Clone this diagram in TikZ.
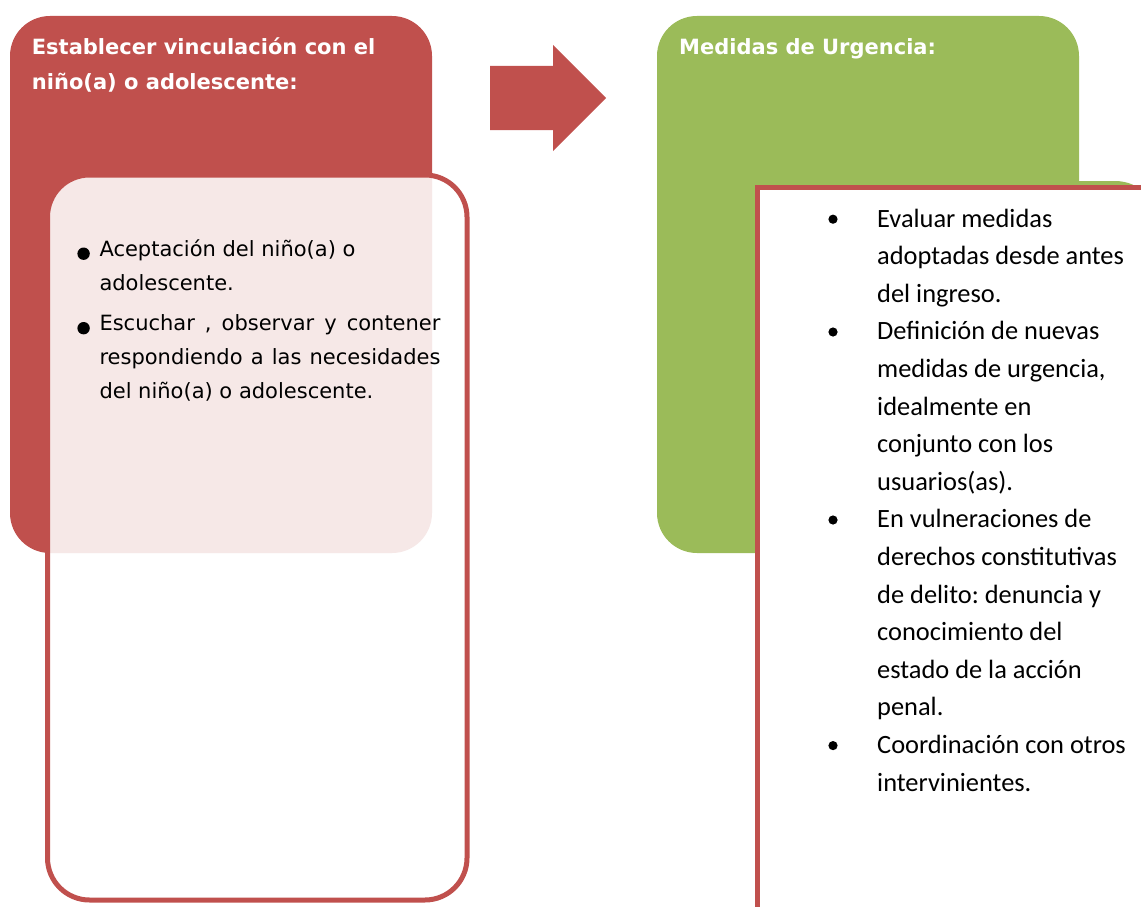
\documentclass[tikz,border=0pt]{standalone}
\usepackage{fontspec}
\setmainfont{DejaVu Sans}
\newfontfamily\calibrifont{Carlito}
\definecolor{cred}{HTML}{C0504D}
\definecolor{cgreen}{HTML}{9BBB59}
\newcommand\jline[1]{\makebox[341pt][s]{\spaceskip=.2em plus 1fil #1}}
\begin{document}
\begin{tikzpicture}[x=1pt,y=-1pt,
  redpanel/.style={rounded corners=40pt, fill=cred},
  greenpanel/.style={rounded corners=40pt, fill=cgreen},
  frameline/.style={draw=cred, line width=5pt},
  hdr/.style={anchor=base west, inner sep=0pt, text=white, text width=420pt, align=flush left,
    font=\fontsize{21pt}{35pt}\selectfont\bfseries\frenchspacing},
  leftitem/.style={anchor=base west, inner sep=0pt, text width=341pt, align=flush left,
    font=\fontsize{21pt}{34pt}\selectfont\frenchspacing},
  rightitem/.style={anchor=base west, inner sep=0pt, text width=262pt, align=flush left,
    font=\calibrifont\fontsize{26.4pt}{37.6pt}\selectfont\frenchspacing},
  lbullet/.style={fill=black},
]
\useasboundingbox (0,0) rectangle (1141,907);
\clip (0,0) rectangle (1141,907);

% left panel
\fill[redpanel] (10,16) rectangle (432,553);
\draw[frameline, rounded corners=42pt, fill=white, fill opacity=0.87] (47.5,175) rectangle (467,900);

% arrow
\fill[cred] (490,66) -- (553,66) -- (553,45) -- (606,98) -- (553,151) -- (553,130) -- (490,130) -- cycle;

% right panel
\fill[greenpanel] (657,16) rectangle (1079,553);
\fill[cgreen, rounded corners=45pt] (760,181) rectangle (1160,900);
\draw[frameline, fill=white] (757,187.5) rectangle (1170,930);

% headers
\node[hdr] (hdrL) at (31.7,55) {Establecer vinculación con el\\niño(a) o adolescente:};
\node[hdr] (hdrR) at (679,55) {Medidas de Urgencia:};

% left items
\node[leftitem] (l1) at (99.3,256) {Aceptación del niño(a) o\\adolescente.};
\node[leftitem] (l2) at (99.3,330.5) {\jline{Escuchar , observar y contener}\\\jline{respondiendo a las necesidades}\\del niño(a) o adolescente.};
\fill[lbullet] (83.6,253.7) circle (6.2pt);
\fill[lbullet] (83.6,328.2) circle (6.2pt);

% right items
\node[rightitem] (r1) at (877,227) {Evaluar medidas\\adoptadas desde antes\\del ingreso.};
\node[rightitem] (r2) at (877,339.8) {Definición de nuevas\\medidas de urgencia,\\idealmente en\\conjunto con los\\usuarios(as).};
\node[rightitem] (r3) at (877,527.8) {En vulneraciones de\\derechos constitutivas\\de delito: denuncia y\\conocimiento del\\estado de la acción\\penal.};
\node[rightitem] (r4) at (877,753.4) {Coordinación con otros\\intervinientes.};
\foreach \b in {227,339.8,527.8,753.4} \fill[lbullet] (833,\b-7.8) circle (4.6pt);
\end{tikzpicture}
\end{document}
